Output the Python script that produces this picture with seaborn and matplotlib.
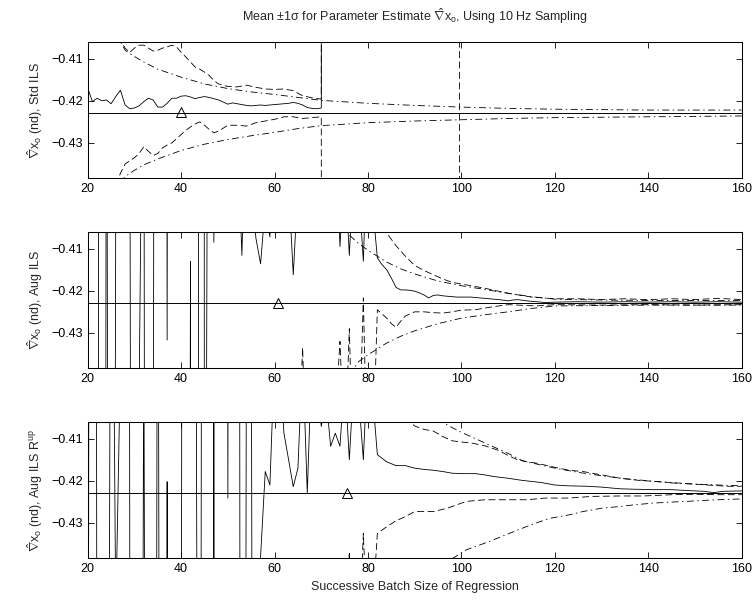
import matplotlib
matplotlib.use("Agg")
import matplotlib.pyplot as plt
import seaborn as sns

# ---------------- data ----------------
title = r"Mean $\pm$1$\sigma$ for Parameter Estimate $\hat{\nabla}\mathrm{x}_{\mathrm{o}}$, Using 10 Hz Sampling"
ylabels = [r"$\hat{\nabla}\mathrm{x}_{\mathrm{o}}$ (nd), Std ILS",
           r"$\hat{\nabla}\mathrm{x}_{\mathrm{o}}$ (nd), Aug ILS",
           r"$\hat{\nabla}\mathrm{x}_{\mathrm{o}}$ (nd), Aug ILS R$^{\mathrm{up}}$"]
xlabel = "Successive Batch Size of Regression"
xticks = [20, 40, 60, 80, 100, 120, 140, 160]
yticks = [-0.43, -0.42, -0.41]
ytick_labels = ["\u22120.43", "\u22120.42", "\u22120.41"]
true_value = -0.4229
tri_x = [40, 60.8, 75.4]
tri_y = [-0.4227, -0.4229, -0.4229]

# Panel 1 (Std ILS)   (None = missing estimate)
p1_mean_n = list(range(20, 72)) + [160]
p1_mean = [-0.4170, -0.4202, -0.4194, -0.4200, -0.4198, -0.4207, -0.4190, -0.4175, -0.4210, -0.4219,
           -0.4217, -0.4212, -0.4202, -0.4194, -0.4198, -0.4215, -0.4215, -0.4206, -0.4194, -0.4194,
           -0.4189, -0.4188, -0.4191, -0.4195, -0.4192, -0.4190, -0.4192, -0.4195, -0.4198, -0.4203,
           -0.4208, -0.4205, -0.4207, -0.4209, -0.4211, -0.4212, -0.4211, -0.4210, -0.4211, -0.4210,
           -0.4209, -0.4208, -0.4207, -0.4206, -0.4204, -0.4206, -0.4210, -0.4216, -0.4218, -0.4219,
           -0.4217, 3.0, 3.0]
p1_up_n = [25, 27, 28, 29, 30, 31, 32, 33, 34, 35, 36, 37, 38, 39, 40, 41, 42, 43, 44, 45, 46, 47,
           48, 49, 50, 52, 54, 56, 58, 60, 62, 64, 66, 68, 70, 71, 99, 100, 160]
p1_up = [-0.4000, -0.4055, -0.4075, -0.4085, -0.4075, -0.4068, -0.4068, -0.4075, -0.4082, -0.4080,
         -0.4075, -0.4072, -0.4068, -0.4072, -0.4085, -0.4096, -0.4108, -0.4120, -0.4125, -0.4132,
         -0.4140, -0.4152, -0.4160, -0.4163, -0.4166, -0.4167, -0.4163, -0.4168, -0.4172, -0.4173,
         -0.4172, -0.4176, -0.4188, -0.4193, -0.4196, 3.0, 3.0, -3.0, -3.0]
p1_lo_n = [26, 27, 28, 30, 31, 32, 33, 34, 35, 36, 37, 38, 39, 40, 41, 42, 43, 44, 45, 46, 47, 48,
           50, 52, 54, 56, 58, 60, 62, 64, 66, 68, 70, 71, 160]
p1_lo = [-0.4400, -0.4372, -0.4350, -0.4335, -0.4325, -0.4309, -0.4320, -0.4330, -0.4325, -0.4312,
         -0.4305, -0.4300, -0.4290, -0.4280, -0.4270, -0.4262, -0.4255, -0.4250, -0.4258, -0.4268,
         -0.4276, -0.4272, -0.4258, -0.4258, -0.4260, -0.4252, -0.4248, -0.4244, -0.4238, -0.4238,
         -0.4242, -0.4240, -0.4238, -3.0, -3.0]
p1_tup_n = [26, 28, 30, 32, 35, 40, 45, 50, 55, 60, 65, 70, 80, 90, 100, 110, 120, 130, 140, 150, 160]
p1_tup = [-0.4040, -0.4080, -0.4095, -0.4108, -0.4125, -0.4144, -0.4160, -0.4171, -0.4179, -0.4185,
          -0.4192, -0.4199, -0.4206, -0.4211, -0.4215, -0.4218, -0.4220, -0.4221, -0.4222, -0.4222,
          -0.4222]
p1_tlo_n = [27, 28, 30, 32, 35, 40, 45, 50, 55, 60, 65, 70, 80, 90, 100, 110, 120, 130, 140, 150, 160]
p1_tlo = [-0.4395, -0.4380, -0.4365, -0.4352, -0.4338, -0.4318, -0.4303, -0.4292, -0.4283, -0.4275,
          -0.4266, -0.4259, -0.4252, -0.4248, -0.4245, -0.4242, -0.4240, -0.4239, -0.4238, -0.4237,
          -0.4236]

# Panel 2 (Aug ILS)
p2_mean_n = list(range(20, 101)) + [102, 104, 106, 108, 110, 111, 112, 114, 116, 118, 120,
                                    125, 130, 135, 140, 145, 150, 155, 160]
p2_mean = [0.30, 0.20, 0.00, -1.40, -0.31, -0.87, -0.398, 0.20, 0.50, -0.36,
           -0.98, -0.445, -0.33, -1.25, -0.50, 0.28, 0.30, -0.4317, 0.30, None,
           None, -0.90, -0.413, -8.4, 3.0, -0.60, -0.24, -0.4085, -0.30, -0.25,
           -0.35, -0.30, -0.38, -0.4116, -0.37, -0.395, -0.4075, -0.4136, -0.400, -0.4072,
           -0.38, -0.33, -0.36, -0.395, -0.4162, -0.395, -0.37, -0.35, -0.33, -0.36,
           -0.38, -0.37, -0.39, -0.38, -0.4095, -0.39, -0.4116, -0.39, -0.395, -0.4130,
           -0.38, -0.400, -0.4122, -0.4138, -0.4150, -0.4170, -0.4192, -0.4198, -0.4198, -0.4199,
           -0.4201, -0.4205, -0.4210, -0.4217, -0.4211, -0.4210, -0.4212, -0.4213, -0.4214, -0.4215,
           -0.4215, -0.4215, -0.4217, -0.4219, -0.4221, -0.4224, -0.4222, -0.4221, -0.4224, -0.4226,
           -0.4228, -0.4227, -0.4226, -0.4227, -0.4226, -0.4227, -0.4226, -0.4227, -0.4226, -0.4227]
p2_up_n = [82, 83, 84, 86, 88, 90, 92, 94, 96, 98, 101, 105, 110, 115, 120, 125, 130, 135, 140,
           145, 150, 155, 160]
p2_up = [-0.390, -0.4045, -0.4063, -0.4093, -0.4118, -0.4140, -0.4152, -0.4162, -0.4172, -0.4180,
         -0.4186, -0.4194, -0.4206, -0.4215, -0.4219, -0.4219, -0.4221, -0.4219, -0.4221, -0.4219,
         -0.4221, -0.4218, -0.4221]
p2_lo_n = [65, 66, 67, 73, 74, 75, 76, 77, 78, 79, 80, 81, 82, 83, 84, 85, 86, 87, 88, 89, 90, 92,
           94, 96, 98, 100, 103, 105, 108, 110, 112, 116, 120, 130, 140, 150, 160]
p2_lo = [-0.460, -0.4335, -0.470, -0.450, -0.4320, -0.460, -0.4290, -0.470, -0.460, -0.4217,
         -0.470, -0.460, -0.4245, -0.4255, -0.4265, -0.4278, -0.4287, -0.4272, -0.4260, -0.4255,
         -0.4250, -0.4250, -0.4252, -0.4253, -0.4250, -0.4246, -0.4245, -0.4241, -0.4236, -0.4233,
         -0.4234, -0.4236, -0.4233, -0.4234, -0.4233, -0.4234, -0.4233]
p2_tup_n = [74, 76, 78, 80, 82, 84, 87, 90, 95, 100, 105, 110, 115, 120, 130, 140, 150, 160]
p2_tup = [-0.4040, -0.4068, -0.4088, -0.4104, -0.4118, -0.4132, -0.4148, -0.4160, -0.4177, -0.4188,
          -0.4197, -0.4206, -0.4214, -0.4220, -0.4222, -0.4223, -0.4223, -0.4223]
p2_tlo_n = [76, 78, 80, 82, 84, 87, 90, 95, 100, 105, 110, 115, 120, 130, 140, 150, 160]
p2_tlo = [-0.4400, -0.4368, -0.4352, -0.4338, -0.4324, -0.4308, -0.4295, -0.4278, -0.4265, -0.4257,
          -0.4250, -0.4242, -0.4236, -0.4235, -0.4234, -0.4234, -0.4234]

# Panel 3 (Aug ILS R^up)
p3_mean_n = list(range(20, 83)) + [84, 86, 88, 90, 92, 94, 96, 98, 100, 103, 105, 107, 110, 113,
                                   117, 120, 123, 127, 130, 134, 137, 141, 145, 148, 152, 154,
                                   156, 160]
p3_mean = [-0.60, 0.30, -0.50, -0.80, -0.70, -0.303, -0.452, -0.392, 0.50, -0.44,
           -0.90, -0.80, -0.38, -0.80, -0.90, -0.30, -0.90, -0.4202, -0.90, -0.90,
           -0.50, 0.30, 0.30, -0.30, -0.70, 0.23, 2.0, -0.50, 3.0, 0.30,
           -0.4241, 0.30, 0.30, -1.00, -0.36, -0.37, -0.90, -0.4380, -0.4178, -0.4210,
           -0.39, -0.39, -0.4087, -0.4150, -0.4214, -0.4170, -0.39, -0.4229, -0.39, -0.395,
           -0.4071, -0.400, -0.4118, -0.4087, -0.4118, -0.395, -0.4150, -0.395, -0.400, -0.4150,
           -0.39, -0.400, -0.4138,
           -0.4155, -0.4164, -0.4164, -0.4170, -0.4173, -0.4175, -0.4178, -0.4182, -0.4183, -0.4183,
           -0.4186, -0.4190, -0.4194, -0.4199, -0.4204, -0.4210, -0.4212, -0.4213, -0.4215, -0.4219,
           -0.4220, -0.4221, -0.4221, -0.4223, -0.4225, -0.4228, -0.4225, -0.4224]
p3_up_n = [88, 89, 90, 92, 94, 96, 98, 100, 102, 105, 108, 110, 112, 114, 116, 118, 120, 123, 126,
           130, 134, 138, 142, 146, 150, 154, 157, 160]
p3_up = [-0.4050, -0.4060, -0.4070, -0.4078, -0.4082, -0.4095, -0.4105, -0.4108, -0.4110, -0.4117,
         -0.4128, -0.4140, -0.4150, -0.4155, -0.4158, -0.4163, -0.4168, -0.4175, -0.4178, -0.4186,
         -0.4194, -0.4199, -0.4202, -0.4205, -0.4208, -0.4211, -0.4213, -0.4213]
p3_lo_n = [75, 76, 77, 78, 79, 80, 81, 82, 84, 86, 88, 90, 94, 97, 101, 105, 110, 114, 118, 123,
           128, 134, 139, 145, 150, 155, 160]
p3_lo = [-0.460, -0.4368, -0.460, -0.460, -0.4325, -0.460, -0.450, -0.4325, -0.4309, -0.4295,
         -0.4285, -0.4273, -0.4273, -0.4265, -0.4249, -0.4245, -0.4245, -0.4245, -0.4241, -0.4241,
         -0.4237, -0.4236, -0.4236, -0.4233, -0.4232, -0.4233, -0.4233]
p3_tup_n = [95, 97, 100, 103, 106, 110, 113, 116, 120, 125, 130, 135, 140, 145, 150, 155, 160]
p3_tup = [-0.4050, -0.4068, -0.4085, -0.4100, -0.4115, -0.4135, -0.4152, -0.4160, -0.4170, -0.4180,
          -0.4188, -0.4195, -0.4200, -0.4205, -0.4208, -0.4210, -0.4212]
p3_tlo_n = [98, 101, 105, 108, 112, 116, 119, 123, 126, 130, 134, 137, 141, 144, 148, 151, 155, 160]
p3_tlo = [-0.4385, -0.4364, -0.4348, -0.4335, -0.4317, -0.4300, -0.4289, -0.4281, -0.4273, -0.4265,
          -0.4261, -0.4257, -0.4253, -0.4251, -0.4249, -0.4247, -0.4245, -0.4243]

panels = [
    dict(mean=(p1_mean_n, p1_mean), up=(p1_up_n, p1_up), lo=(p1_lo_n, p1_lo),
         tup=(p1_tup_n, p1_tup), tlo=(p1_tlo_n, p1_tlo)),
    dict(mean=(p2_mean_n, p2_mean), up=(p2_up_n, p2_up), lo=(p2_lo_n, p2_lo),
         tup=(p2_tup_n, p2_tup), tlo=(p2_tlo_n, p2_tlo)),
    dict(mean=(p3_mean_n, p3_mean), up=(p3_up_n, p3_up), lo=(p3_lo_n, p3_lo),
         tup=(p3_tup_n, p3_tup), tlo=(p3_tlo_n, p3_tlo)),
]


def split_runs(xs, ys):
    """Break a series at missing (None) values so the line shows a gap."""
    runs, cx, cy = [], [], []
    for x, y in zip(xs, ys):
        if y is None:
            if cx:
                runs.append((cx, cy))
            cx, cy = [], []
        else:
            cx.append(x)
            cy.append(y)
    if cx:
        runs.append((cx, cy))
    return runs


# ---------------- style ----------------
sns.set_style("white")
plt.rcParams["font.family"] = ["Liberation Sans", "DejaVu Sans"]
plt.rcParams["mathtext.fontset"] = "custom"
plt.rcParams["mathtext.rm"] = "Liberation Sans"
plt.rcParams["mathtext.it"] = "Liberation Sans"
plt.rcParams["mathtext.bf"] = "Liberation Sans:bold"
plt.rcParams["lines.scale_dashes"] = False
plt.rcParams["axes.edgecolor"] = "black"

FS = 9
LW = 0.6
DASH = (0, (5, 2.5))
DASHDOT = (0, (5, 2.5, 1, 2.5))

fig = plt.figure(figsize=(7.55, 6.01), dpi=100)
left, width, height = 0.1162, 0.8662, 0.2253
bottoms = [0.7043, 0.3882, 0.0720]

for i, (pan, b) in enumerate(zip(panels, bottoms)):
    ax = fig.add_axes([left, b, width, height])
    ax.axhline(true_value, color="black", lw=0.7, zorder=2)
    for key, ls in [("tup", DASHDOT), ("tlo", DASHDOT), ("up", DASH), ("lo", DASH), ("mean", "-")]:
        xs, ys = pan[key]
        for rx, ry in split_runs(xs, ys):
            sns.lineplot(x=rx, y=ry, ax=ax, color="black", linewidth=LW, linestyle=ls,
                         estimator=None, sort=False, errorbar=None, zorder=3)
    sns.lineplot(x=[tri_x[i]], y=[tri_y[i]], ax=ax, marker="^", linestyle="",
                 markersize=7, mfc="none", mec="black", mew=0.7, color="black",
                 estimator=None, errorbar=None, zorder=4)
    ax.set_xlim(20, 160)
    ax.set_ylim(-0.43826, -0.40612)
    ax.set_xticks(xticks)
    ax.set_xticklabels([str(t) for t in xticks])
    ax.set_yticks(yticks)
    ax.set_yticklabels(ytick_labels)
    ax.tick_params(direction="in", top=True, right=True, bottom=True, left=True,
                   length=4, width=0.6, labelsize=FS, colors="black")
    ax.tick_params(axis="x", pad=4)
    ax.tick_params(axis="y", pad=3.5)
    for s in ax.spines.values():
        s.set_linewidth(0.75)
        s.set_color("black")
    ax.set_ylabel(ylabels[i], fontsize=FS)
    ax.yaxis.set_label_coords(-0.066, 0.5)
    ax.set_xlabel("")
    if i == 0:
        ax.set_title(title, fontsize=FS, pad=15)
    if i == 2:
        ax.set_xlabel(xlabel, fontsize=FS, labelpad=4)

fig.savefig("out.png", dpi=100)
